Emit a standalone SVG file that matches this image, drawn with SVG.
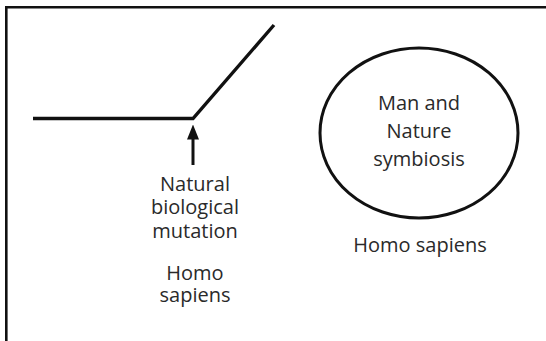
<svg xmlns="http://www.w3.org/2000/svg" width="546" height="341" viewBox="0 0 546 341">
  <style>
    .t { font-family: "Open Sans", "Liberation Sans", sans-serif; font-size: 20px; fill: #2a2a2a; text-anchor: middle; }
    .ln { fill: none; stroke: #111; stroke-width: 3.4; }
  </style>
  <defs>
    <marker id="ah" markerWidth="5" markerHeight="4" refX="0.5" refY="2" orient="auto" markerUnits="strokeWidth">
      <path d="M0,0 L5,2 L0,4 Z" fill="#111"/>
    </marker>
  </defs>
  <rect width="546" height="341" fill="#fff"/>
  <path d="M6.3,341 V7.2 H546" fill="none" stroke="#111" stroke-width="2.6"/>
  <g id="trajectory">
    <polyline class="ln" points="33,118.5 193,118.5 274,25" stroke-linejoin="miter"/>
  </g>
  <g id="connectors">
    <line x1="193" y1="165" x2="193" y2="138" stroke="#111" stroke-width="3" marker-end="url(#ah)"/>
  </g>
  <g id="mutation">
    <text class="t" x="195" y="191">Natural</text>
    <text class="t" x="195" y="214">biological</text>
    <text class="t" x="195" y="238">mutation</text>
    <text class="t" x="195" y="280">Homo</text>
    <text class="t" x="195" y="302">sapiens</text>
  </g>
  <g id="symbiosis">
    <ellipse cx="419" cy="133" rx="99" ry="85" fill="none" stroke="#111" stroke-width="3"/>
    <text class="t" x="419" y="110">Man and</text>
    <text class="t" x="419" y="138">Nature</text>
    <text class="t" x="419" y="166">symbiosis</text>
  </g>
  <g id="sapiens">
    <text class="t" x="420" y="252">Homo sapiens</text>
  </g>
</svg>
